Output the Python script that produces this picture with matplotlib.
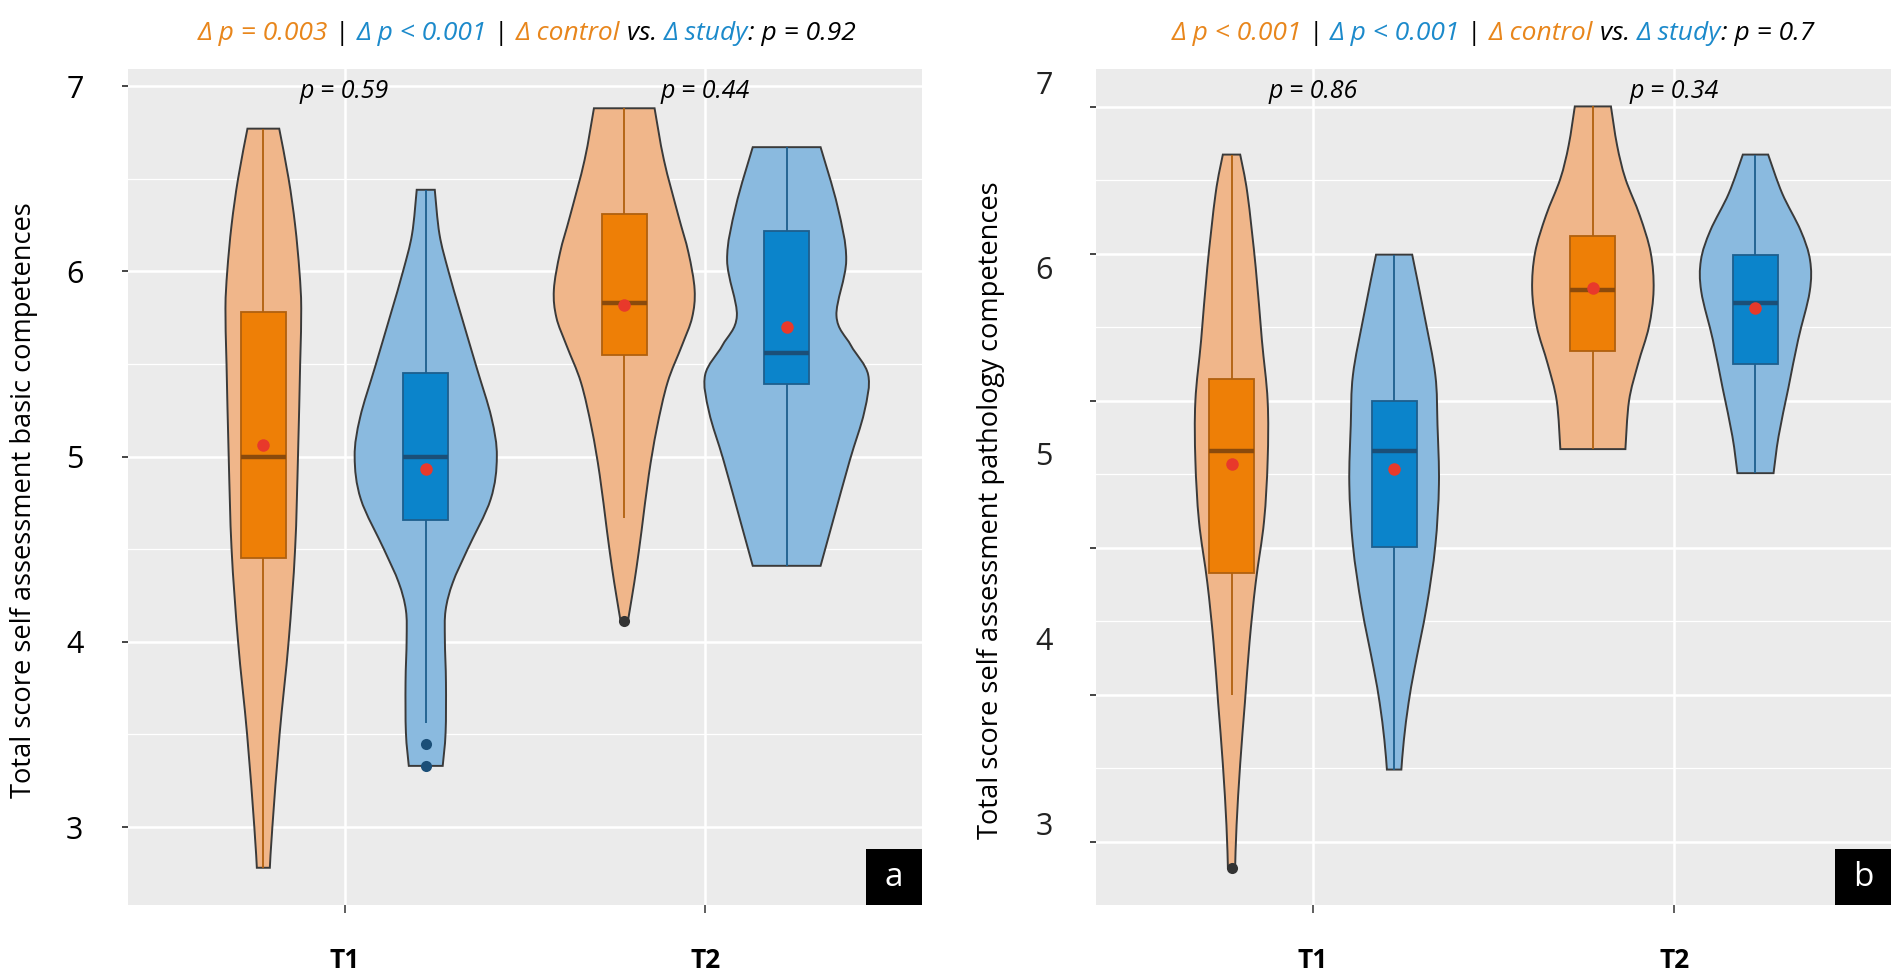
import matplotlib
matplotlib.use("Agg")
import matplotlib.pyplot as plt
from matplotlib.path import Path
from matplotlib.patches import PathPatch, Rectangle
import numpy as np

plt.rcParams['font.family'] = ['Open Sans', 'DejaVu Sans']

# ---------------- data ----------------
categories = ["T1", "T2"]
group_names = ["control", "study"]

# Panel a: violin density profiles (value, half-width in x units)
a_t1_ctrl_y = [2.78, 3.0, 3.5, 4.0, 4.5, 5.0, 5.5, 5.8, 6.0, 6.25, 6.5, 6.77]
a_t1_ctrl_w = [0.018, 0.025, 0.045, 0.070, 0.088, 0.096, 0.102, 0.105, 0.100, 0.088, 0.070, 0.044]
a_t1_study_y = [3.33, 3.51, 3.78, 4.01, 4.17, 4.32, 4.50, 4.77, 5.0, 5.21, 5.48, 5.77, 6.0, 6.2, 6.44]
a_t1_study_w = [0.047, 0.055, 0.056, 0.053, 0.055, 0.075, 0.116, 0.180, 0.197, 0.182, 0.141, 0.097, 0.063, 0.038, 0.025]
a_t2_ctrl_y = [4.11, 4.25, 4.40, 4.60, 4.90, 5.15, 5.40, 5.60, 5.75, 5.90, 6.10, 6.30, 6.60, 6.88]
a_t2_ctrl_w = [0.010, 0.022, 0.034, 0.048, 0.068, 0.090, 0.120, 0.160, 0.188, 0.195, 0.178, 0.150, 0.110, 0.084]
a_t2_study_y = [4.41, 4.65, 4.98, 5.24, 5.44, 5.60, 5.76, 6.06, 6.35, 6.67]
a_t2_study_w = [0.094, 0.128, 0.175, 0.215, 0.226, 0.178, 0.138, 0.165, 0.141, 0.094]

# Panel a: box stats [whisker low, Q1, median, Q3, whisker high], means, outliers
a_t1_ctrl_box = [2.78, 4.45, 5.00, 5.78, 6.77]
a_t1_study_box = [3.56, 4.66, 5.00, 5.45, 6.44]
a_t2_ctrl_box = [4.67, 5.55, 5.83, 6.31, 6.88]
a_t2_study_box = [4.41, 5.39, 5.56, 6.22, 6.67]
a_means_ctrl = [5.06, 5.82]
a_means_study = [4.93, 5.70]
a_t1_study_out = [3.45, 3.33]
a_t2_ctrl_out = [4.11]

# Panel b
b_t1_ctrl_y = [2.78, 3.01, 3.34, 3.67, 4.0, 4.32, 4.65, 4.98, 5.30, 5.63, 6.02, 6.42, 6.63]
b_t1_ctrl_w = [0.010, 0.014, 0.024, 0.037, 0.050, 0.067, 0.090, 0.100, 0.100, 0.084, 0.067, 0.044, 0.024]
b_t1_study_y = [3.31, 3.47, 3.67, 3.86, 4.19, 4.52, 4.85, 5.17, 5.44, 5.76, 6.09]
b_t1_study_w = [0.020, 0.027, 0.040, 0.057, 0.090, 0.114, 0.124, 0.120, 0.114, 0.084, 0.050]
b_t2_ctrl_y = [5.04, 5.30, 5.50, 5.70, 5.90, 6.10, 6.30, 6.50, 6.68, 6.89]
b_t2_ctrl_w = [0.090, 0.100, 0.125, 0.155, 0.168, 0.160, 0.130, 0.090, 0.067, 0.050]
b_t2_study_y = [4.91, 5.11, 5.37, 5.63, 5.89, 6.06, 6.22, 6.42, 6.63]
b_t2_study_w = [0.050, 0.064, 0.091, 0.118, 0.150, 0.151, 0.125, 0.074, 0.035]

b_t1_ctrl_box = [3.71, 4.37, 5.03, 5.42, 6.63]
b_t1_study_box = [3.31, 4.51, 5.03, 5.30, 6.09]
b_t2_ctrl_box = [5.04, 5.57, 5.90, 6.19, 6.89]
b_t2_study_box = [4.91, 5.50, 5.83, 6.09, 6.63]
b_means_ctrl = [4.96, 5.91]
b_means_study = [4.93, 5.80]
b_t1_ctrl_out = [2.78]

# text
a_ylabel = "Total score self assessment basic competences"
b_ylabel = "Total score self assessment pathology competences"
a_pvals = ["p = 0.59", "p = 0.44"]
b_pvals = ["p = 0.86", "p = 0.34"]
a_title_parts = ["Δ p = 0.003", "Δ p < 0.001", "p = 0.92"]
b_title_parts = ["Δ p < 0.001", "Δ p < 0.001", "p = 0.7"]
y_labels = [3, 4, 5, 6, 7]
b_tick_values = [6.887, 6.094, 5.300, 4.507, 3.713, 2.920]

# ---------------- style ----------------
C_VIO = "#F0B68A"
C_BOX = "#EE7F06"
C_BOXE = "#B0600E"
C_MED = "#8A4A0C"
S_VIO = "#8ABADF"
S_BOX = "#0B84CB"
S_BOXE = "#1D5F8E"
S_MED = "#1B4F78"
T_OR = "#E8861C"
T_BL = "#1C8ACB"
OUTLINE = "#3A3A3A"
DODGE = 0.225
BOXHW = 0.0625

W, H = 1902, 976
fig = plt.figure(figsize=(W / 100, H / 100), dpi=100)
axa = fig.add_axes([128 / W, 1 - 905 / H, 794 / W, 836 / H])
axb = fig.add_axes([1096 / W, 1 - 905 / H, 795 / W, 836 / H])


def smooth_side(xs, ys):
    pts = np.column_stack([xs, ys])
    n = len(pts)
    verts = []
    for i in range(n - 1):
        p0 = pts[max(i - 1, 0)]
        p1 = pts[i]
        p2 = pts[i + 1]
        p3 = pts[min(i + 2, n - 1)]
        c1 = p1 + (p2 - p0) / 6.0
        c2 = p2 - (p3 - p1) / 6.0
        verts += [tuple(c1), tuple(c2), tuple(p2)]
    return verts


def violin(ax, xc, ys, ws, fc):
    ys = np.asarray(ys, float)
    ws = np.asarray(ws, float)
    right = smooth_side(xc + ws, ys)
    left = smooth_side((xc - ws)[::-1], ys[::-1])
    verts = [(xc - ws[0], ys[0]), (xc + ws[0], ys[0])] + right + [(xc - ws[-1], ys[-1])] + left + [(xc - ws[0], ys[0])]
    codes = [Path.MOVETO, Path.LINETO] + [Path.CURVE4] * len(right) + [Path.LINETO] + [Path.CURVE4] * len(left) + [Path.CLOSEPOLY]
    ax.add_patch(PathPatch(Path(verts, codes), facecolor=fc, edgecolor=OUTLINE, lw=1.4, zorder=2))


def boxplot(ax, xc, st, fc, ec, mc):
    lo, q1, med, q3, hi = st
    ax.plot([xc, xc], [lo, q1], color=ec, lw=1.3, zorder=3, solid_capstyle='butt')
    ax.plot([xc, xc], [q3, hi], color=ec, lw=1.3, zorder=3, solid_capstyle='butt')
    ax.add_patch(Rectangle((xc - BOXHW, q1), 2 * BOXHW, q3 - q1, facecolor=fc, edgecolor=ec, lw=1.3, zorder=4))
    ax.plot([xc - BOXHW, xc + BOXHW], [med, med], color=mc, lw=3.2, zorder=5, solid_capstyle='butt')


def setup(ax):
    ax.set_facecolor("#EBEBEB")
    for s in ax.spines.values():
        s.set_visible(False)
    ax.set_xlim(0.4, 2.6)
    ax.set_ylim(2.579, 7.092)
    ax.set_xticks([1, 2])
    ax.set_xticklabels(categories, fontsize=19, fontweight='bold')
    ax.tick_params(axis='x', length=6, width=1.1, color='#333333', pad=24)
    ax.tick_params(axis='y', which='major', length=4, width=1.4, color='#444444', pad=28, labelsize=22)
    ax.tick_params(axis='y', which='minor', length=0)
    ax.grid(True, which='major', color='white', lw=1.8)
    ax.grid(True, which='minor', axis='y', color='white', lw=0.9)
    ax.set_axisbelow(True)


def panel(ax, profiles, boxes, means_c, means_s, outs, pvals, letter):
    setup(ax)
    for i in range(2):
        x = i + 1
        (cy, cw), (sy, sw) = profiles[i]
        violin(ax, x - DODGE, cy, cw, C_VIO)
        violin(ax, x + DODGE, sy, sw, S_VIO)
        boxplot(ax, x - DODGE, boxes[i][0], C_BOX, C_BOXE, C_MED)
        boxplot(ax, x + DODGE, boxes[i][1], S_BOX, S_BOXE, S_MED)
        ax.plot([x - DODGE], [means_c[i]], 'o', color='#E8392B', ms=9, zorder=6, mec='none')
        ax.plot([x + DODGE], [means_s[i]], 'o', color='#E8392B', ms=9, zorder=6, mec='none')
        oc, os_ = outs[i]
        if oc:
            ax.plot([x - DODGE] * len(oc), oc, 'o', color='#333333', ms=8, zorder=6, mec='none')
        if os_:
            ax.plot([x + DODGE] * len(os_), os_, 'o', color=S_MED, ms=8, zorder=6, mec='none')
        ax.text(x, 6.97, pvals[i], ha='center', va='center', fontsize=18, style='italic', color='black', zorder=7)
    ax.add_patch(Rectangle((1 - 56 / 794, 0), 56 / 794, 56 / 836, transform=ax.transAxes,
                           facecolor='black', edgecolor='none', zorder=8))
    ax.text(1 - 28 / 794, 28 / 836, letter, transform=ax.transAxes, ha='center', va='center',
            color='white', fontsize=24, zorder=9)


panel(axa,
      [((a_t1_ctrl_y, a_t1_ctrl_w), (a_t1_study_y, a_t1_study_w)),
       ((a_t2_ctrl_y, a_t2_ctrl_w), (a_t2_study_y, a_t2_study_w))],
      [(a_t1_ctrl_box, a_t1_study_box), (a_t2_ctrl_box, a_t2_study_box)],
      a_means_ctrl, a_means_study,
      [([], a_t1_study_out), (a_t2_ctrl_out, [])],
      a_pvals, "a")
axa.set_yticks(y_labels)
axa.set_yticklabels([str(v) for v in y_labels])
axa.set_yticks([3.5, 4.5, 5.5, 6.5], minor=True)

panel(axb,
      [((b_t1_ctrl_y, b_t1_ctrl_w), (b_t1_study_y, b_t1_study_w)),
       ((b_t2_ctrl_y, b_t2_ctrl_w), (b_t2_study_y, b_t2_study_w))],
      [(b_t1_ctrl_box, b_t1_study_box), (b_t2_ctrl_box, b_t2_study_box)],
      b_means_ctrl, b_means_study,
      [(b_t1_ctrl_out, []), ([], [])],
      b_pvals, "b")
axb.set_yticks(b_tick_values)
axb.set_yticklabels([""] * len(b_tick_values))
bt = np.array(b_tick_values)
axb.set_yticks(list((bt[:-1] + bt[1:]) / 2), minor=True)
for v in y_labels:
    axb.annotate(str(v), xy=(0, v), xycoords=('axes fraction', 'data'), xytext=(-31, 0),
                 textcoords='offset points', ha='right', va='center', fontsize=22, color='#222222')

fig.text(24 / W, 1 - 500 / H, a_ylabel, rotation=90, ha='center', va='center', fontsize=19.6)
fig.text(991 / W, 1 - 510 / H, b_ylabel, rotation=90, ha='center', va='center', fontsize=19.6)


def rich_title(xc_px, yc_px, parts, size=19):
    texts = []
    for s, col, style in parts:
        t = fig.text(0, 1 - yc_px / H, s, color=col, fontsize=size, style=style, ha='left', va='center')
        texts.append(t)
    fig.canvas.draw()
    r = fig.canvas.get_renderer()
    widths = []
    for t in texts:
        widths.append(t.get_window_extent(r).width)
    x = xc_px - sum(widths) / 2
    for t, w in zip(texts, widths):
        t.set_x(x / W)
        x += w


def title_parts(p):
    return [(p[0] + " ", T_OR, 'italic'), ("| ", 'black', 'normal'),
            (p[1] + " ", T_BL, 'italic'), ("| ", 'black', 'normal'),
            ("Δ control ", T_OR, 'italic'), ("vs. ", 'black', 'italic'),
            ("Δ study", T_BL, 'italic'), (": " + p[2], 'black', 'italic')]


rich_title(527, 33, title_parts(a_title_parts))
rich_title(1493, 33, title_parts(b_title_parts))

fig.savefig("out.png", dpi=100, facecolor='white')
